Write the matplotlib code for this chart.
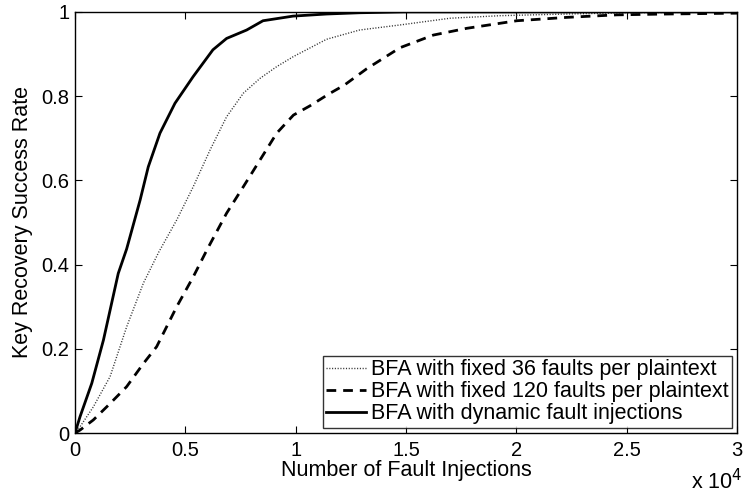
import numpy as np
import matplotlib
matplotlib.use("Agg")
import matplotlib.pyplot as plt
from matplotlib.ticker import FuncFormatter

plt.rcParams['font.family'] = ['Liberation Sans', 'DejaVu Sans']

# ---------------- data ----------------
x_dyn = [0, 230, 760, 1290, 1960, 2340, 2950, 3320, 3850, 4530, 5350, 6250,
         6870, 7780, 8520, 9880, 11400, 12900, 15000, 20000, 30000]
y_dyn = [0, 0.039, 0.118, 0.221, 0.379, 0.437, 0.553, 0.632, 0.712, 0.783, 0.846, 0.91,
         0.937, 0.957, 0.979, 0.99, 0.995, 0.998, 1.0, 1.0, 1.0]

x_36 = [0, 230, 830, 1590, 2340, 3100, 3800, 4610, 5360, 6120, 6870, 7630,
        8380, 9140, 9900, 11400, 12900, 14730, 17000, 19260, 22280, 25000, 30000]
y_36 = [0, 0.015, 0.062, 0.134, 0.252, 0.356, 0.43, 0.506, 0.585, 0.672, 0.751, 0.807,
        0.842, 0.87, 0.894, 0.935, 0.957, 0.969, 0.985, 0.991, 0.995, 0.998, 1.0]

x_120 = [0, 230, 830, 1590, 2340, 3100, 3700, 4610, 5360, 6000, 6870, 7630,
         8380, 9140, 9900, 10650, 11500, 12200, 13220, 14730, 16240, 17750,
         20020, 22280, 24550, 26820, 30000]
y_120 = [0, 0.007, 0.031, 0.07, 0.11, 0.165, 0.205, 0.3, 0.371, 0.437, 0.522, 0.585,
         0.648, 0.712, 0.755, 0.777, 0.805, 0.826, 0.865, 0.915, 0.945, 0.961,
         0.979, 0.987, 0.993, 0.995, 0.997]

labels = ["BFA with fixed 36 faults per plaintext",
          "BFA with fixed 120 faults per plaintext",
          "BFA with dynamic fault injections"]

FS = 15.5
TICK_FS = 14.5

# ---------------- plot ----------------
fig = plt.figure(figsize=(7.44, 4.96), dpi=100)
ax = fig.add_axes([0.1008, 0.127, 0.8898, 0.849])

ax.plot(x_36, y_36, color="#333333", lw=1.0, linestyle=(0, (0.8, 1.2)), label=labels[0])
ax.plot(x_120, y_120, color="black", lw=2.0, linestyle=(0, (3.5, 2.5)), label=labels[1])
ax.plot(x_dyn, y_dyn, color="black", lw=2.0, label=labels[2])

ax.set_xlim(0, 30000)
ax.set_ylim(0, 1)
ax.set_xticks(np.arange(0, 30001, 5000))
ax.set_yticks(np.arange(0, 1.01, 0.2))
ax.xaxis.set_major_formatter(FuncFormatter(lambda v, p: f"{v/1e4:g}"))
ax.yaxis.set_major_formatter(FuncFormatter(lambda v, p: f"{v:g}"))
ax.tick_params(direction="in", top=True, right=True, length=5, width=0.8,
               labelsize=TICK_FS)
ax.tick_params(axis="x", pad=6)
ax.tick_params(axis="y", pad=4)
for s in ax.spines.values():
    s.set_linewidth(1.0)

ax.set_xlabel("Number of Fault Injections", fontsize=FS, labelpad=0)
ax.set_ylabel("Key Recovery Success Rate", fontsize=FS, labelpad=6)
fig.text(0.964, 0.003, r"x 10$^4$", fontsize=FS, ha="center", va="bottom")

leg = ax.legend(loc="lower right", fontsize=FS, frameon=True, fancybox=False,
                edgecolor="black", handlelength=1.86, handletextpad=0.23,
                borderpad=0.15, labelspacing=0.05, borderaxespad=0.25)
leg.get_frame().set_linewidth(1.0)

fig.savefig("out.png", dpi=100)
